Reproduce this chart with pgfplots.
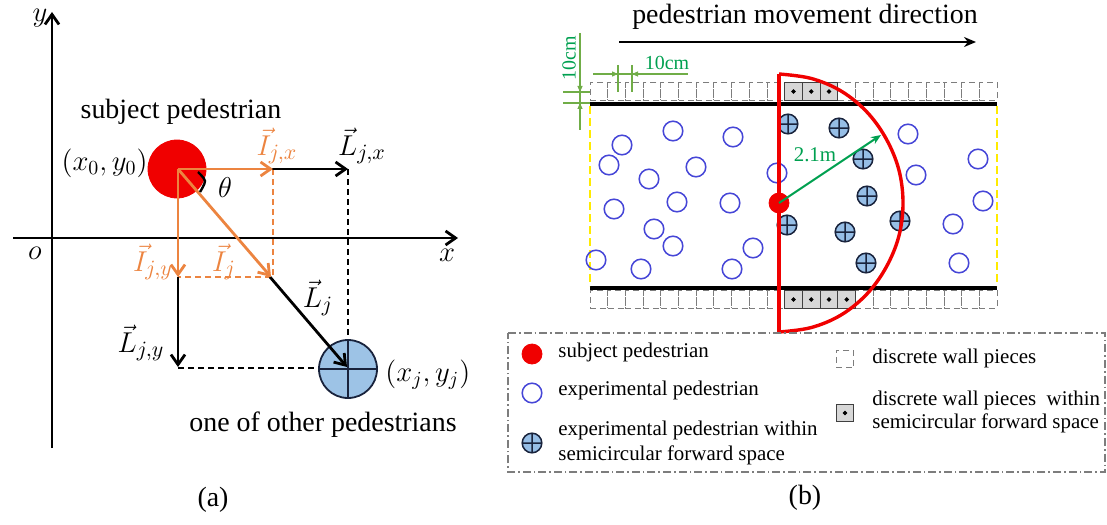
\documentclass[border=0pt]{standalone}
\usepackage{fontspec}
\setmainfont{Liberation Serif}
\usepackage{pgfplots}
\pgfplotsset{compat=1.18}
\usetikzlibrary{arrows.meta}
\definecolor{vorange}{RGB}{236,132,64}
\definecolor{pred}{RGB}{240,0,0}
\definecolor{pblue}{RGB}{70,70,215}
\definecolor{pfill}{RGB}{150,190,230}
\definecolor{pnavy}{RGB}{25,35,60}
\definecolor{lblue}{RGB}{157,195,230}
\definecolor{agreen}{RGB}{0,160,80}
\definecolor{dgreen}{RGB}{112,173,71}
\definecolor{pyellow}{RGB}{255,235,0}
\definecolor{wgray}{RGB}{125,125,125}
\definecolor{hgray}{RGB}{215,215,215}
\begin{document}
\begin{tikzpicture}
\begin{axis}[
  width=553.5bp, height=262.5bp, scale only axis,
  xmin=0, xmax=1107, ymin=0, ymax=525, y dir=reverse,
  axis lines=none, clip=false, clip marker paths=true,
]
% ================= panel (a) =================
% axes
\addplot[black, line width=1.4bp, -{Straight Barb[length=5bp,width=7bp]}] coordinates {(52,448) (52,12)};
\addplot[black, line width=1.4bp, -{Straight Barb[length=5bp,width=7bp]}] coordinates {(13,238) (458,238)};
% dashed guides
\addplot[vorange, line width=0.8bp, dash pattern=on 3bp off 2bp] coordinates {(273,169) (273,277) (178,277)};
\addplot[black, line width=0.8bp, dash pattern=on 3bp off 2bp] coordinates {(348,169) (348,345)};
\addplot[black, line width=0.8bp, dash pattern=on 3bp off 2bp] coordinates {(178,368) (330,368)};
% subject pedestrian
\addplot[only marks, mark=*, mark size=14.5bp, mark options={draw=pred, fill=pred}] coordinates {(177,169)};
% other pedestrian
\addplot[only marks, mark=oplus*, mark size=14.5bp, mark options={draw=pnavy, fill=lblue, line width=0.9bp}] coordinates {(348,369)};
% black vectors
\addplot[black, line width=1.4bp, -{Straight Barb[length=5bp,width=7bp]}] coordinates {(272,169) (348,169)};
\addplot[black, line width=1.4bp, -{Straight Barb[length=5bp,width=7bp]}] coordinates {(178,277) (178,367)};
\addplot[black, line width=1.4bp, -{Straight Barb[length=5bp,width=7bp]}] coordinates {(270,277) (347,367)};
% orange vectors
\addplot[vorange, line width=1.4bp, -{Straight Barb[length=5bp,width=7bp]}] coordinates {(178,169) (273,169)};
\addplot[vorange, line width=1.4bp, -{Straight Barb[length=5bp,width=7bp]}] coordinates {(178,169) (178,277)};
\addplot[vorange, line width=1.4bp, -{Straight Barb[length=5bp,width=7bp]}] coordinates {(178,169) (271,277)};
% theta arc
\addplot[black, line width=1.2bp, smooth] coordinates {(198,172) (205,181) (200,192)};
% labels (a)
\node[font=\fontsize{14}{16}\selectfont, inner sep=0pt] at (40,18) {$y$};
\node[font=\fontsize{14}{16}\selectfont] at (447,255) {$x$};
\node[font=\fontsize{14}{16}\selectfont] at (35,253) {$o$};
\node[font=\fontsize{14}{16}\selectfont] at (181,112) {subject pedestrian};
\node[font=\fontsize{14.5}{16}\selectfont, anchor=east, inner sep=0pt] at (148,163) {$(x_0,y_0)$};
\node[font=\fontsize{14.5}{16}\selectfont] at (225,188) {$\theta$};
\node[font=\fontsize{15}{16}\selectfont, text=vorange, inner sep=0pt] at (277,146) {$\vec{I}_{j,x}$};
\node[font=\fontsize{15}{16}\selectfont, inner sep=0pt] at (362,146) {$\vec{L}_{j,x}$};
\node[font=\fontsize{15}{16}\selectfont, text=vorange, inner sep=0pt] at (153,262) {$\vec{I}_{j,y}$};
\node[font=\fontsize{15}{16}\selectfont, text=vorange, inner sep=0pt] at (224,262) {$\vec{I}_{j}$};
\node[font=\fontsize{15}{16}\selectfont, inner sep=0pt] at (318,298) {$\vec{L}_{j}$};
\node[font=\fontsize{15}{16}\selectfont, inner sep=0pt] at (141,343) {$\vec{L}_{j,y}$};
\node[font=\fontsize{14.5}{16}\selectfont, anchor=west, inner sep=0pt] at (385,375) {$(x_j,y_j)$};
\node[font=\fontsize{14}{16}\selectfont] at (323,425) {one of other pedestrians};
\node[font=\fontsize{14}{16}\selectfont] at (213,500) {(a)};
% ================= panel (b) =================
\node[font=\fontsize{14}{16}\selectfont] at (805,17) {pedestrian movement direction};
\addplot[black, line width=1.4bp, -{Stealth[length=6bp,width=5bp]}] coordinates {(619,42) (976,42)};
% discrete wall pieces
\addplot[only marks, mark=square, mark size=4.42bp, mark options={draw=wgray, line width=0.5bp, densely dashed}] coordinates {
(598.85,91.5)(616.55,91.5)(634.25,91.5)(651.95,91.5)(669.65,91.5)(687.35,91.5)(705.05,91.5)(722.75,91.5)(740.45,91.5)(758.15,91.5)(775.85,91.5)
(846.65,91.5)(864.35,91.5)(882.05,91.5)(899.75,91.5)(917.45,91.5)(935.15,91.5)(952.85,91.5)(970.55,91.5)(988.25,91.5)
(598.85,299.5)(616.55,299.5)(634.25,299.5)(651.95,299.5)(669.65,299.5)(687.35,299.5)(705.05,299.5)(722.75,299.5)(740.45,299.5)(758.15,299.5)(775.85,299.5)
(864.35,299.5)(882.05,299.5)(899.75,299.5)(917.45,299.5)(935.15,299.5)(952.85,299.5)(970.55,299.5)(988.25,299.5)
(845,359)};
% highlighted wall pieces
\addplot[only marks, mark=square*, mark size=4.42bp, mark options={draw=black!75, fill=hgray, line width=0.6bp}] coordinates {
(793.55,91.5)(811.25,91.5)(828.95,91.5)
(793.55,299.5)(811.25,299.5)(828.95,299.5)(846.65,299.5)
(845,413)};
\addplot[only marks, mark=*, mark size=0.9bp, mark options={draw=black, fill=black}] coordinates {
(793.55,91.5)(811.25,91.5)(828.95,91.5)
(793.55,299.5)(811.25,299.5)(828.95,299.5)(846.65,299.5)
(845,413)};
% walls
\addplot[black, line width=1.7bp] coordinates {(590,104) (997,104)};
\addplot[black, line width=1.7bp] coordinates {(590,288) (997,288)};
\addplot[pyellow, line width=0.8bp, dash pattern=on 4bp off 2bp] coordinates {(590,106) (590,286)};
\addplot[pyellow, line width=0.8bp, dash pattern=on 4bp off 2bp] coordinates {(997,106) (997,286)};
% dimensions
\addplot[dgreen, line width=0.6bp] coordinates {(593,74) (688,74)};
\addplot[dgreen, line width=0.6bp] coordinates {(618,65) (618,92)};
\addplot[dgreen, line width=0.6bp] coordinates {(632,65) (632,92)};
\addplot[dgreen, line width=0.6bp, -{Triangle[length=3bp,width=2.5bp]}] coordinates {(605,74) (618,74)};
\addplot[dgreen, line width=0.6bp, -{Triangle[length=3bp,width=2.5bp]}] coordinates {(645,74) (632,74)};
\addplot[dgreen, line width=0.6bp] coordinates {(580,33) (580,130)};
\addplot[dgreen, line width=0.6bp] coordinates {(563,92) (590,92)};
\addplot[dgreen, line width=0.6bp] coordinates {(563,103) (590,103)};
\addplot[dgreen, line width=0.6bp, -{Triangle[length=3bp,width=2.5bp]}] coordinates {(580,80) (580,92)};
\addplot[dgreen, line width=0.6bp, -{Triangle[length=3bp,width=2.5bp]}] coordinates {(580,116) (580,103)};
\node[font=\fontsize{10}{12}\selectfont, text=agreen] at (667,63) {10cm};
\node[font=\fontsize{10}{12}\selectfont, text=agreen, rotate=90] at (569,58) {10cm};
% experimental pedestrians
\addplot[only marks, mark=o, mark size=4.9bp, mark options={draw=pblue, line width=0.75bp}] coordinates {
(622,145)(609,165)(673,131)(649,179)(696,167)(733,137)(777,173)(614,209)(677,202)(730,203)(654,229)(673,246)(596,260)(641,269)(753,248)(732,269)
(908,134)(916,175)(978,159)(983,201)(953,224)(959,263)
(532,393)};
% pedestrians within semicircular forward space
\addplot[only marks, mark=oplus*, mark size=4.9bp, mark options={draw=pnavy, fill=pfill, line width=0.75bp}] coordinates {
(788,124)(839,128)(863,159)(867,196)(787,225)(845,232)(900,221)(866,263)
(532,443)};
% semicircular forward space
\addplot[pred, line width=1.7bp] coordinates {(779,74) (779,333)};
\addplot[pred, line width=1.7bp, smooth, tension=0.6] coordinates {
(779,74)(811,78.4)(841,91)(866.7,111.8)(886,138.5)(898.8,169.6)(903,203)(898.8,236.4)(886,267.5)(866.7,294.2)(841,315)(811,327.6)(779,332)};
% subject pedestrian
\addplot[only marks, mark=*, mark size=5bp, mark options={draw=pred, fill=pred}] coordinates {(779,203) (532,354)};
\addplot[agreen, line width=1bp, -{Stealth[length=5bp,width=4bp]}] coordinates {(779,203) (881,135)};
\node[font=\fontsize{10.5}{12}\selectfont, text=agreen] at (815,155) {2.1m};
% legend box
\addplot[wgray, line width=0.6bp, dash pattern=on 4bp off 1.5bp on 0.8bp off 1.5bp] coordinates {(508,333) (1105,333) (1105,472) (508,472) (508,333)};
\node[font=\fontsize{10.5}{12}\selectfont, anchor=west, inner sep=0pt] at (558,352) {subject pedestrian};
\node[font=\fontsize{10.5}{12}\selectfont, anchor=west, inner sep=0pt] at (558,390) {experimental pedestrian};
\node[font=\fontsize{10.5}{12}\selectfont, anchor=west, inner sep=0pt] at (558,430) {experimental pedestrian within};
\node[font=\fontsize{10.5}{12}\selectfont, anchor=west, inner sep=0pt] at (558,455) {semicircular forward space};
\node[font=\fontsize{10.5}{12}\selectfont, anchor=west, inner sep=0pt] at (872,358) {discrete wall pieces};
\node[font=\fontsize{10.5}{12}\selectfont, anchor=west, inner sep=0pt] at (872,400) {discrete wall pieces\ \ within};
\node[font=\fontsize{10.5}{12}\selectfont, anchor=west, inner sep=0pt] at (872,423) {semicircular forward space};
\node[font=\fontsize{14}{16}\selectfont] at (805,498) {(b)};
\end{axis}
\pgfresetboundingbox
\path (current axis.south west) rectangle (current axis.north east);
\end{tikzpicture}
\end{document}
